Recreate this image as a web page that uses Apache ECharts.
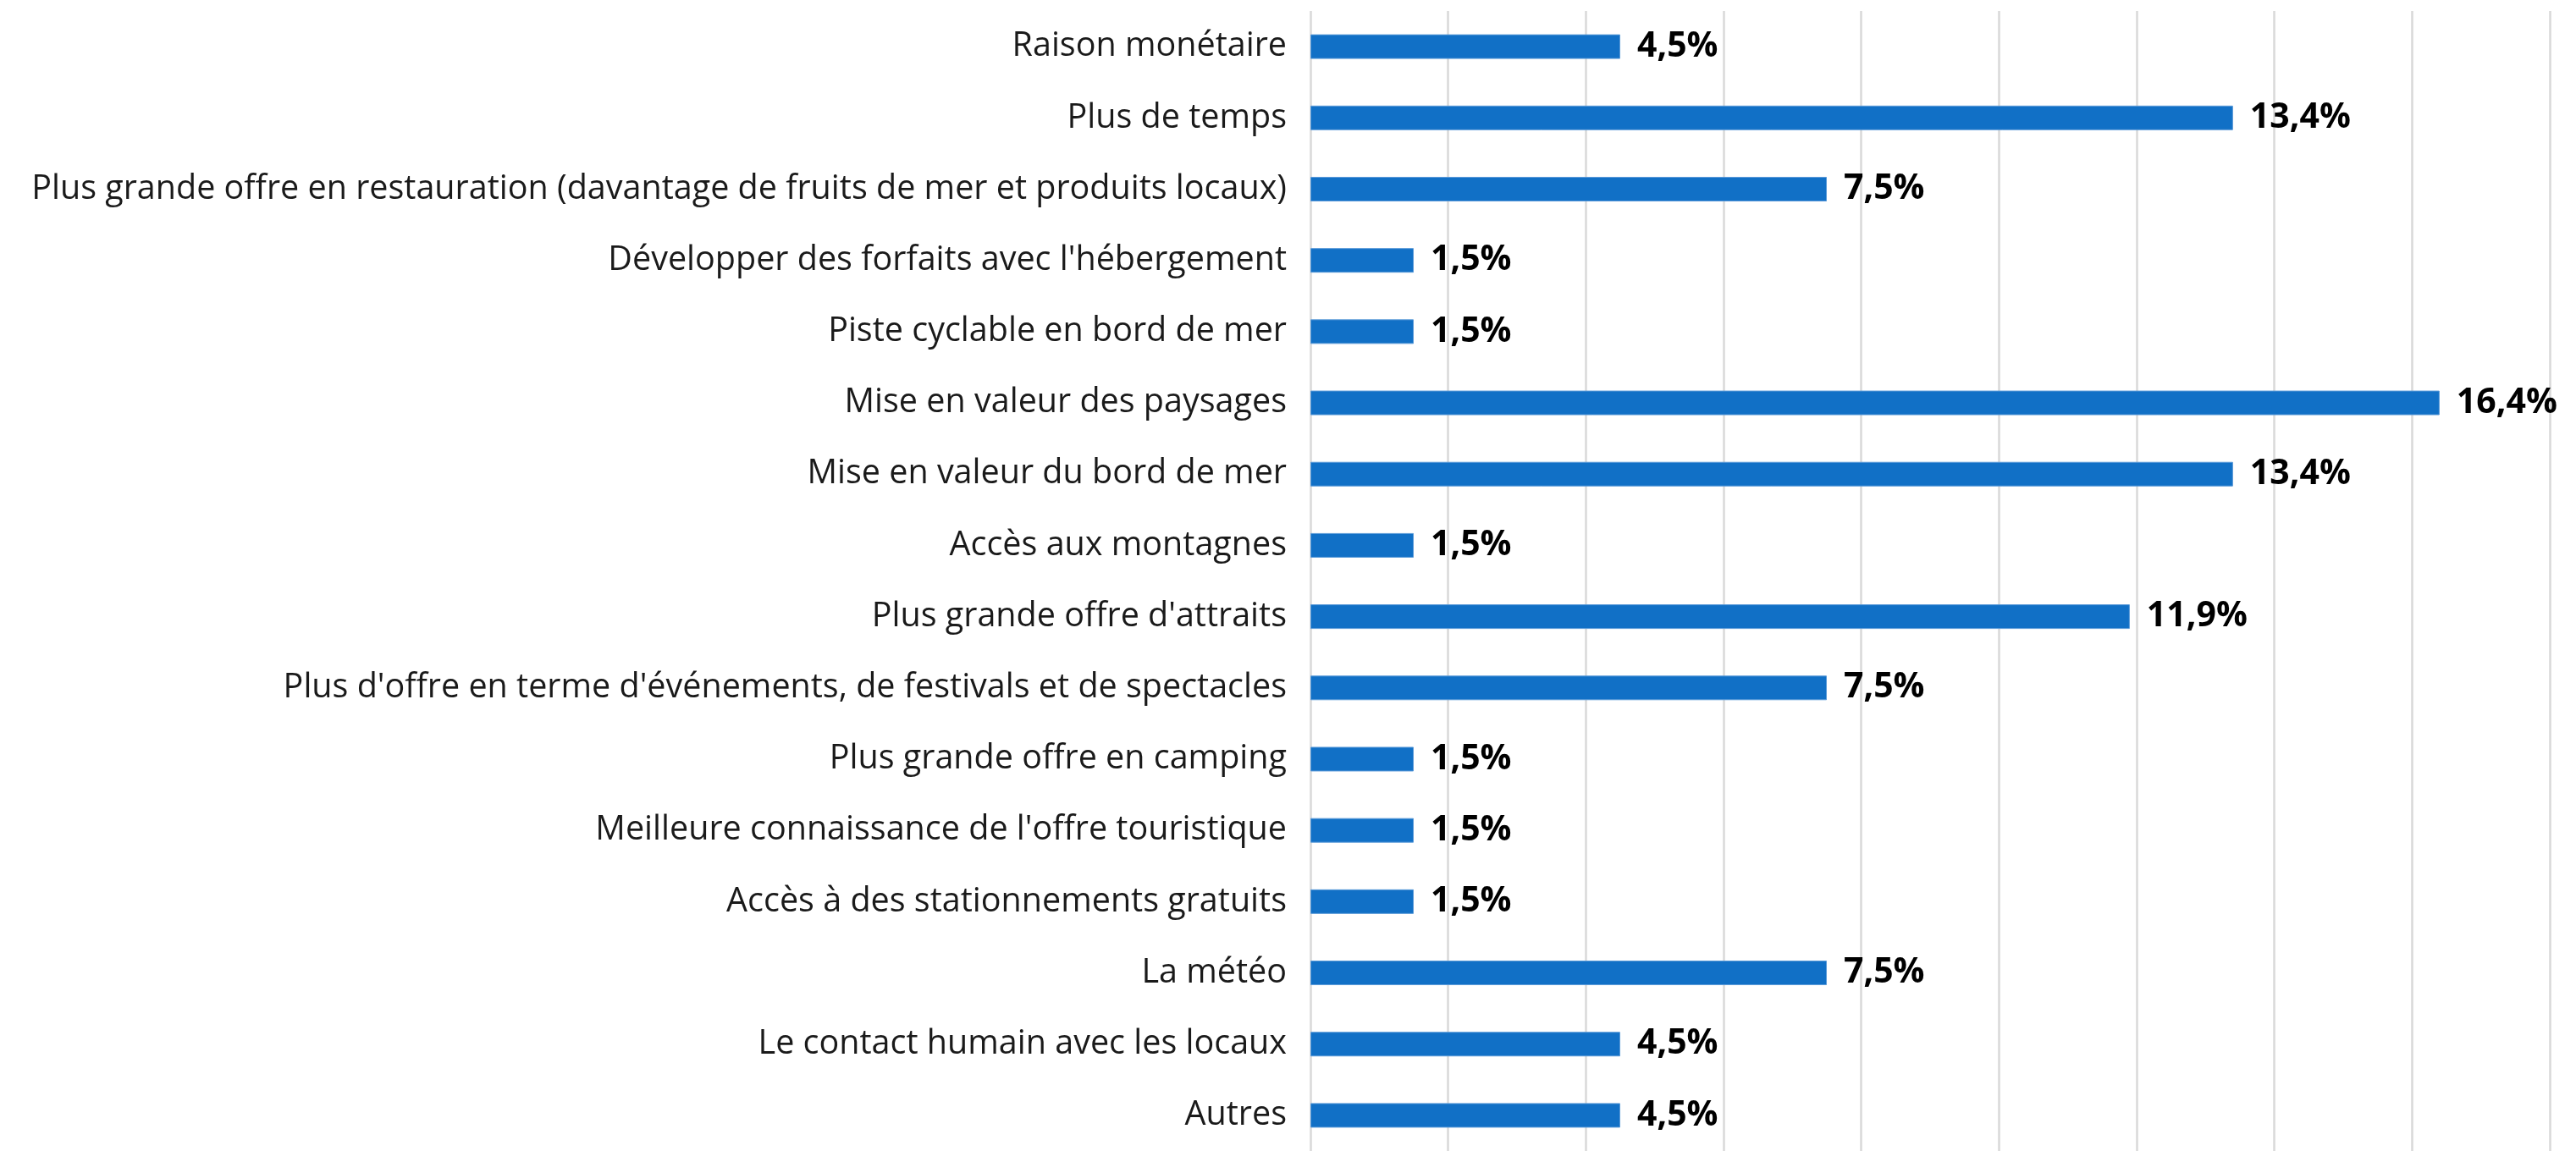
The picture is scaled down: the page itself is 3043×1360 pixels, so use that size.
<!DOCTYPE html>
<html>
<head>
<meta charset="utf-8">
<script src="https://cdn.jsdelivr.net/npm/echarts@6/dist/echarts.min.js"></script>
<style>
  html, body { margin: 0; padding: 0; background: #ffffff; }
  #chart { width: 3043px; height: 1360px; }
</style>
</head>
<body>
<div id="chart"></div>
<script>
// catégories, du haut vers le bas
var categories = [
  "Raison monétaire",
  "Plus de temps",
  "Plus grande offre en restauration (davantage de fruits de mer et produits locaux)",
  "Développer des forfaits avec l'hébergement",
  "Piste cyclable en bord de mer",
  "Mise en valeur des paysages",
  "Mise en valeur du bord de mer",
  "Accès aux montagnes",
  "Plus grande offre d'attraits",
  "Plus d'offre en terme d'événements, de festivals et de spectacles",
  "Plus grande offre en camping",
  "Meilleure connaissance de l'offre touristique",
  "Accès à des stationnements gratuits",
  "La météo",
  "Le contact humain avec les locaux",
  "Autres"
];
// pourcentages
var values = [4.5, 13.4, 7.5, 1.5, 1.5, 16.4, 13.4, 1.5, 11.9, 7.5, 1.5, 1.5, 1.5, 7.5, 4.5, 4.5];

var font = "'Open Sans', 'Liberation Sans', sans-serif";

var option = {
  animation: false,
  backgroundColor: "#ffffff",
  grid: {
    left: 1548,
    right: 31,
    top: 13,
    height: 1357,
    containLabel: false
  },
  xAxis: {
    type: "value",
    min: 0,
    max: 18,
    interval: 2,
    axisLabel: { show: false },
    axisTick: { show: false },
    axisLine: { show: false },
    splitLine: {
      show: true,
      lineStyle: { color: "#d9d9d9", width: 2.5 }
    }
  },
  yAxis: {
    type: "category",
    inverse: true,
    data: categories,
    axisTick: { show: false },
    axisLine: { show: false },
    axisLabel: {
      margin: 28,
      fontFamily: font,
      fontSize: 39.5,
      color: "#1a1a1a"
    }
  },
  series: [
    {
      type: "bar",
      data: values,
      barWidth: 29,
      itemStyle: {
        color: "#1170c6",
        borderColor: "#5a9ad8",
        borderWidth: 1
      },
      label: {
        show: true,
        position: "right",
        distance: 20,
        fontFamily: font,
        fontSize: 41,
        fontWeight: "bold",
        color: "#000000",
        formatter: function (p) {
          return p.value.toFixed(1).replace(".", ",") + "%";
        }
      }
    }
  ]
};

var chart = echarts.init(document.getElementById("chart"));
chart.setOption(option);
</script>
</body>
</html>
